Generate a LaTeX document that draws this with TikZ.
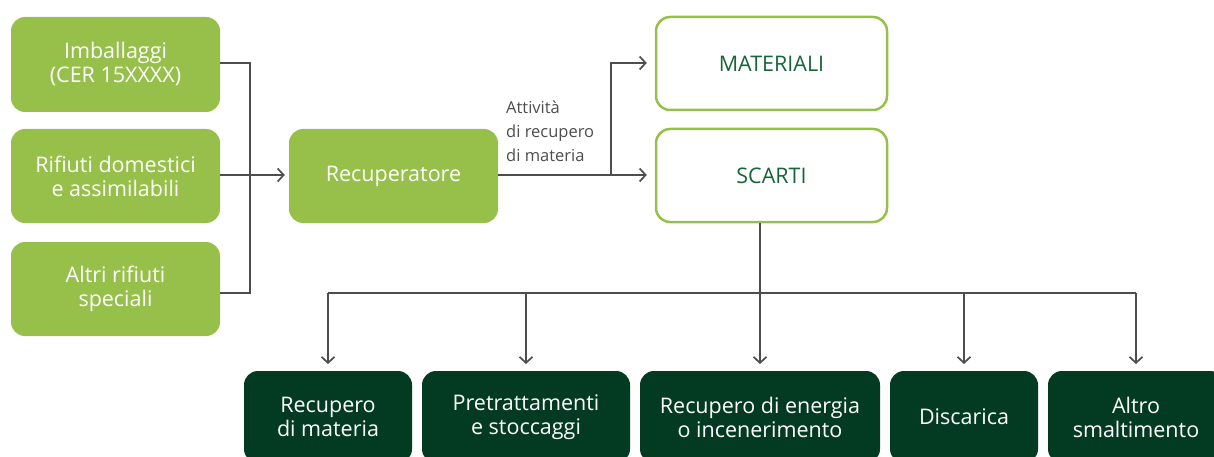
\documentclass[tikz,border=0pt]{standalone}
\usepackage{fontspec}
\setmainfont{Open Sans}
\usetikzlibrary{arrows.meta}
\definecolor{lgreen}{HTML}{97C04A}
\definecolor{dgreen}{HTML}{033A22}
\definecolor{tgreen}{HTML}{17653A}
\definecolor{lgray}{HTML}{4D4D4D}
\tikzset{
  box/.style={rectangle, rounded corners=14pt, inner sep=0pt, align=center, font=\fontsize{21.5}{24}\selectfont},
  srcbox/.style={box, fill=lgreen, text=white},
  outbox/.style={box, draw=lgreen, line width=2.5pt, fill=white, text=tgreen},
  endbox/.style={box, fill=dgreen, text=white},
  conn/.style={draw=lgray, line width=1.7pt},
  arr/.style={conn, -{Straight Barb[length=6pt, width=13pt, line width=1.7pt]}},
}
\begin{document}
\begin{tikzpicture}[x=1pt, y=-1pt]
\useasboundingbox (0,0) rectangle (1214,457);
\begin{scope}
\clip (0,0) rectangle (1214,457);
% sources
\node[srcbox, minimum width=209pt, minimum height=95pt] (imb) at (115.5,64.5) {Imballaggi\\(CER 15XXXX)};
\node[srcbox, minimum width=209pt, minimum height=94pt] (dom) at (115.5,176) {Rifiuti domestici\\e assimilabili};
\node[srcbox, minimum width=209pt, minimum height=94pt] (alt) at (115.5,289) {Altri rifiuti\\speciali};
\node[srcbox, minimum width=209pt, minimum height=94pt] (rec) at (393.5,176) {Recuperatore};
\node[outbox, minimum width=231pt, minimum height=93pt] (mat) at (771.5,63.5) {MATERIALI};
\node[outbox, minimum width=231pt, minimum height=93pt] (sca) at (771.5,175.5) {SCARTI};
% destinations
\node[endbox, minimum width=168pt, minimum height=92pt] (d1) at (328,417) {Recupero\\di materia};
\node[endbox, minimum width=208pt, minimum height=92pt] (d2) at (526,417) {Pretrattamenti\\e stoccaggi};
\node[endbox, minimum width=240pt, minimum height=92pt] (d3) at (760,417) {Recupero di energia\\o incenerimento};
\node[endbox, minimum width=148pt, minimum height=92pt] (d4) at (964,417) {Discarica};
\node[endbox, minimum width=176pt, minimum height=92pt] (d5) at (1136,417) {Altro\\smaltimento};
\end{scope}
% coordinates
\coordinate (jx) at (250,175);
\coordinate (sp) at (611,175);
\coordinate (hb) at (760,293);
% left connectors
\draw[conn] (imb.east |- 0,63) -| (jx |- 0,293) -- (alt.east |- 0,293);
\draw[arr, shorten >=4pt] (dom.east |- jx) -- (rec.west |- jx);
% recuperatore outputs
\draw[arr, shorten >=8pt] (rec.east |- sp) -- (sca.west |- sp);
\draw[arr, shorten >=8pt] (sp) |- (mat.west |- 0,63);
\node[anchor=north west, align=left, text=lgray, inner sep=0pt, font=\fontsize{16.5}{24}\selectfont] (lab) at (506,101) {Attività\\di recupero\\di materia};
% scarti outputs
\draw[arr, shorten >=7pt] (sca.south -| hb) -- (d3.north |- 0,371);
\draw[conn] (d1.north |- hb) -- (d5.north |- hb);
\draw[arr, shorten >=7pt] (d1.north |- hb) -- (d1.north |- 0,371);
\draw[arr, shorten >=7pt] (d2.north |- hb) -- (d2.north |- 0,371);
\draw[arr, shorten >=7pt] (d4.north |- hb) -- (d4.north |- 0,371);
\draw[arr, shorten >=7pt] (d5.north |- hb) -- (d5.north |- 0,371);
\end{tikzpicture}
\end{document}
